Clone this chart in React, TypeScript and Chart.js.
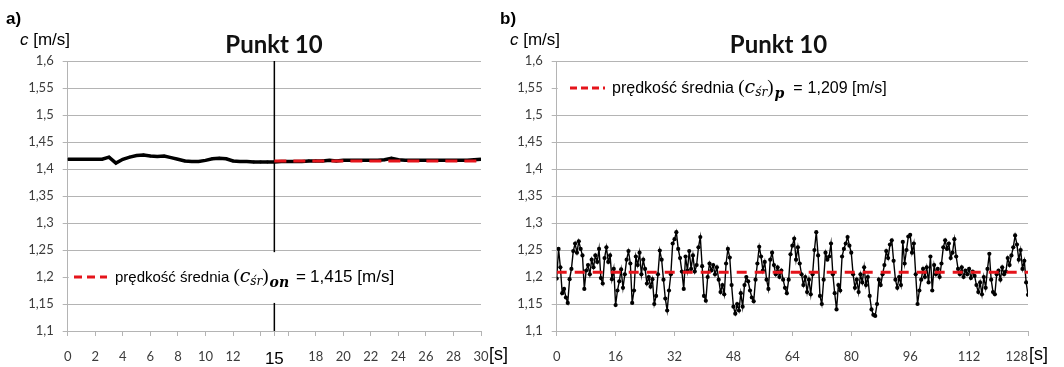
import React, { useEffect, useRef } from 'react';
import { Chart, registerables } from 'chart.js';

Chart.register(...registerables);

// ---------------- data ----------------
const yTickValues = [1.1, 1.15, 1.2, 1.25, 1.3, 1.35, 1.4, 1.45, 1.5, 1.55, 1.6];

// chart a)
const leftSampleStep = 0.5; // [s]
const leftSpeeds = [
  1.418, 1.418, 1.418, 1.418, 1.418, 1.418, 1.422, 1.411, 1.418, 1.422,
  1.425, 1.426, 1.424, 1.423, 1.424, 1.421, 1.418, 1.415, 1.414, 1.414,
  1.416, 1.419, 1.420, 1.419, 1.415, 1.414, 1.414, 1.413, 1.413, 1.413,
  1.413, 1.414, 1.414, 1.414, 1.414, 1.415, 1.415, 1.415, 1.416, 1.415,
  1.416, 1.416, 1.416, 1.416, 1.416, 1.416, 1.417, 1.420, 1.417, 1.416,
  1.416, 1.416, 1.416, 1.416, 1.416, 1.416, 1.416, 1.416, 1.416, 1.417,
  1.418,
];
const leftMeanSpeed = 1.415;
const leftMeanRange = [15, 30];
const leftMarkerTime = 15;
const leftXTicks = [0, 2, 4, 6, 8, 10, 12, 14, 15, 16, 18, 20, 22, 24, 26, 28, 30];
const leftHiddenTicks = [14, 16];
const leftEmphasisTick = 15;

// chart b)
const rightSampleStep = 0.5; // [s]
const rightSpeeds = [
  1.197, 1.252, 1.218, 1.170, 1.178, 1.162, 1.152, 1.196,
  1.215, 1.248, 1.262, 1.245, 1.266, 1.252, 1.240, 1.178,
  1.212, 1.222, 1.205, 1.232, 1.218, 1.240, 1.228, 1.252,
  1.198, 1.188, 1.235, 1.255, 1.228, 1.240, 1.196, 1.215,
  1.148, 1.175, 1.192, 1.214, 1.180, 1.205, 1.232, 1.248,
  1.225, 1.152, 1.175, 1.238, 1.222, 1.245, 1.205, 1.232,
  1.215, 1.188, 1.200, 1.182, 1.196, 1.150, 1.165, 1.205,
  1.249, 1.232, 1.195, 1.160, 1.138, 1.175, 1.205, 1.262,
  1.270, 1.283, 1.252, 1.235, 1.210, 1.178, 1.238, 1.212,
  1.248, 1.215, 1.240, 1.210, 1.222, 1.255, 1.274, 1.220,
  1.165, 1.156, 1.200, 1.225, 1.212, 1.222, 1.205, 1.218,
  1.195, 1.172, 1.185, 1.168, 1.225, 1.252, 1.236, 1.185,
  1.145, 1.132, 1.150, 1.138, 1.170, 1.145, 1.185, 1.200,
  1.192, 1.175, 1.162, 1.155, 1.195, 1.225, 1.256, 1.238,
  1.212, 1.228, 1.195, 1.178, 1.232, 1.245, 1.222, 1.205,
  1.218, 1.200, 1.212, 1.195, 1.180, 1.170, 1.195, 1.242,
  1.258, 1.271, 1.232, 1.255, 1.225, 1.205, 1.185, 1.200,
  1.172, 1.195, 1.168, 1.205, 1.250, 1.283, 1.240, 1.165,
  1.150, 1.195, 1.245, 1.232, 1.238, 1.262, 1.205, 1.170,
  1.140, 1.185, 1.175, 1.238, 1.252, 1.262, 1.274, 1.258,
  1.245, 1.205, 1.180, 1.195, 1.172, 1.205, 1.190, 1.218,
  1.185, 1.200, 1.165, 1.140, 1.130, 1.128, 1.150, 1.195,
  1.185, 1.205, 1.222, 1.248, 1.235, 1.260, 1.268, 1.230,
  1.195, 1.180, 1.200, 1.185, 1.265, 1.225, 1.250, 1.275,
  1.278, 1.245, 1.262, 1.205, 1.150, 1.175, 1.195, 1.215,
  1.200, 1.218, 1.190, 1.238, 1.175, 1.222, 1.205, 1.215,
  1.200, 1.225, 1.255, 1.268, 1.252, 1.262, 1.235, 1.245,
  1.270, 1.238, 1.215, 1.205, 1.218, 1.200, 1.212, 1.205,
  1.215, 1.198, 1.210, 1.202, 1.185, 1.172, 1.190, 1.168,
  1.200, 1.180, 1.215, 1.243, 1.195, 1.172, 1.168, 1.205,
  1.212, 1.195, 1.218, 1.205, 1.210, 1.235, 1.222, 1.240,
  1.255, 1.277, 1.260, 1.232, 1.250, 1.215, 1.230, 1.190,
  1.167,
];
const rightMeanSpeed = 1.209;
const rightMeanRange = [0, 128];
const rightXTicks = [0, 16, 32, 48, 64, 80, 96, 112, 128];

// ---------------- styling ----------------
const H = 367;
const GRID = '#b4b4b4';
const TICK_COLOR = '#3c3c3c';
const RED = '#e5141b';
const NUM = 'Lato, "Open Sans", sans-serif';
const SANS = '"Liberation Sans", Arial, sans-serif';
const SERIF = '"Liberation Serif", serif';
const MATH = '"DejaVu Serif", serif';

const fmt = (v: number) => Number(v).toFixed(2).replace(/0$/, '').replace('.', ',');

type Piece = { text: string; font: string; dy?: number; gap?: number };

function drawRich(ctx: CanvasRenderingContext2D, x: number, y: number, pieces: Piece[]) {
  let cx = x;
  for (const p of pieces) {
    cx += p.gap || 0;
    if (!p.text) continue;
    ctx.font = p.font;
    ctx.fillText(p.text, cx, y + (p.dy || 0));
    cx += ctx.measureText(p.text).width;
  }
}

type Spec = {
  width: number;
  area: { left: number; top: number; right: number; bottom: number };
  xMin: number;
  xMax: number;
  xTicks: number[];
  hidden: number[];
  emphasis?: number;
  manualLast?: number;
  datasets: any[];
  boxTop: number;
  boxBottom: number;
  legendValue: number;
  sample: [number, number];
  textX: number;
  dash: number[];
  legendPieces: Piece[];
  corner: string;
  cornerX: number;
  unitX: number;
  titleX: number;
  sX: number;
};

function makeChart(canvas: HTMLCanvasElement, s: Spec) {
  const overlay = {
    id: 'overlay',
    afterDatasetsDraw(chart: any) {
      const { ctx, chartArea: a, scales } = chart;
      const ys = scales.y;
      const top = ys.getPixelForValue(s.boxTop);
      const bottom = ys.getPixelForValue(s.boxBottom);
      ctx.save();
      ctx.fillStyle = '#ffffff';
      ctx.fillRect(a.left + 1, top, a.right - a.left - 1, bottom - top);
      const cy = ys.getPixelForValue(s.legendValue);
      ctx.strokeStyle = RED;
      ctx.lineWidth = 3;
      ctx.setLineDash(s.dash);
      ctx.beginPath();
      ctx.moveTo(s.sample[0], cy);
      ctx.lineTo(s.sample[1], cy);
      ctx.stroke();
      ctx.setLineDash([]);
      ctx.fillStyle = '#000';
      ctx.textAlign = 'left';
      ctx.textBaseline = 'alphabetic';
      drawRich(ctx, s.textX, cy + 5, s.legendPieces);
      ctx.restore();
    },
    afterDraw(chart: any) {
      const { ctx, scales } = chart;
      ctx.save();
      ctx.fillStyle = '#000';
      ctx.textAlign = 'left';
      ctx.textBaseline = 'alphabetic';
      ctx.font = `bold 17px ${SANS}`;
      ctx.fillText(s.corner, s.cornerX, 24);
      drawRich(ctx, s.unitX, 45, [
        { text: 'c', font: `italic 17px ${SANS}` },
        { text: ' [m/s]', font: `17px ${SANS}` },
      ]);
      ctx.textAlign = 'center';
      ctx.font = `bold 24px ${NUM}`;
      ctx.fillStyle = '#111';
      ctx.fillText('Punkt 10', s.titleX, 53);
      let sx = s.sX;
      if (s.manualLast !== undefined) {
        const px = scales.x.getPixelForValue(s.manualLast);
        ctx.textAlign = 'right';
        ctx.textBaseline = 'middle';
        ctx.fillStyle = TICK_COLOR;
        ctx.font = `13px ${NUM}`;
        ctx.fillText(String(s.manualLast), px, 357);
        sx = px + 1;
      }
      ctx.textAlign = 'left';
      ctx.textBaseline = 'alphabetic';
      ctx.fillStyle = '#000';
      ctx.font = `18px ${SANS}`;
      ctx.fillText('[s]', sx, 360);
      ctx.restore();
    },
  };

  return new Chart(canvas, {
    type: 'line',
    data: { datasets: s.datasets },
    options: {
      animation: false,
      responsive: false,
      maintainAspectRatio: false,
      events: [],
      layout: {
        padding: { left: 0, top: s.area.top, right: s.width - s.area.right, bottom: 0 },
      },
      plugins: {
        legend: { display: false },
        tooltip: { enabled: false },
        title: { display: false },
      },
      scales: {
        x: {
          type: 'linear',
          min: s.xMin,
          max: s.xMax,
          afterBuildTicks: (sc: any) => {
            sc.ticks = s.xTicks.map((v) => ({ value: v }));
          },
          afterFit: (sc: any) => {
            sc.height = H - s.area.bottom;
          },
          ticks: {
            autoSkip: false,
            maxRotation: 0,
            padding: 13,
            color: (c: any) => (c.tick && c.tick.value === s.emphasis ? '#000' : TICK_COLOR),
            font: (c: any) =>
              c.tick && c.tick.value === s.emphasis
                ? { family: SANS, size: 17 }
                : { family: NUM, size: 13 },
            callback: (v: any) => {
              const n = Number(v);
              if (s.hidden.includes(n)) return '';
              if (s.manualLast !== undefined && n === s.manualLast) return '';
              return String(n);
            },
          },
          grid: {
            drawOnChartArea: false,
            drawTicks: true,
            tickLength: 5,
            color: GRID,
          },
          border: { display: true, color: GRID },
        },
        y: {
          type: 'linear',
          min: 1.1,
          max: 1.6,
          afterBuildTicks: (sc: any) => {
            sc.ticks = yTickValues.map((v) => ({ value: v }));
          },
          afterFit: (sc: any) => {
            sc.width = s.area.left;
          },
          ticks: {
            padding: 9,
            color: TICK_COLOR,
            font: { family: NUM, size: 13 },
            callback: (v: any) => fmt(Number(v)),
          },
          grid: { color: GRID, tickLength: 5, lineWidth: 1 },
          border: { display: true, color: GRID },
        },
      },
    },
    plugins: [overlay],
  } as any);
}

const leftSpec: Spec = {
  width: 520,
  area: { left: 67.7, top: 61, right: 481, bottom: 331 },
  xMin: 0,
  xMax: 30,
  xTicks: leftXTicks,
  hidden: leftHiddenTicks,
  emphasis: leftEmphasisTick,
  datasets: [
    {
      data: leftMeanRange.map((t) => ({ x: t, y: leftMeanSpeed })),
      borderColor: RED,
      borderWidth: 3,
      borderDash: [12, 7],
      pointRadius: 0,
    },
    {
      data: leftSpeeds.map((v, i) => ({ x: i * leftSampleStep, y: v })),
      borderColor: '#000',
      borderWidth: 3.5,
      pointRadius: 1.4,
      pointBackgroundColor: '#000',
      pointBorderWidth: 0,
      tension: 0,
    },
    {
      data: [
        { x: leftMarkerTime, y: 1.1 },
        { x: leftMarkerTime, y: 1.6 },
      ],
      borderColor: '#000',
      borderWidth: 1.5,
      pointRadius: 0,
    },
  ],
  boxTop: 1.246,
  boxBottom: 1.152,
  legendValue: 1.2,
  sample: [74, 107],
  textX: 115,
  dash: [8, 5],
  legendPieces: [
    { text: 'prędkość średnia ', font: `15px ${SANS}` },
    { text: '(', font: `19px ${SERIF}` },
    { text: 'c', font: `italic 19px ${MATH}` },
    { text: 'śr', font: `italic 12px ${MATH}`, dy: 3 },
    { text: ')', font: `19px ${SERIF}` },
    { text: 'on', font: `bold italic 14px ${MATH}`, dy: 5, gap: 1 },
    { text: '=', font: `17px ${SANS}`, gap: 7 },
    { text: '1,415 [m/s]', font: `17px ${SANS}`, gap: 4 },
  ],
  corner: 'a)',
  cornerX: 6,
  unitX: 20,
  titleX: 274,
  sX: 489,
};

const OFF = 490;
const rightSpec: Spec = {
  width: 574,
  area: { left: 556.7 - OFF, top: 61, right: 1028 - OFF, bottom: 331 },
  xMin: 0,
  xMax: 128,
  xTicks: rightXTicks,
  hidden: [],
  manualLast: 128,
  datasets: [
    {
      data: rightMeanRange.map((t) => ({ x: t, y: rightMeanSpeed })),
      borderColor: RED,
      borderWidth: 3,
      borderDash: [10, 8],
      pointRadius: 0,
    },
    {
      data: rightSpeeds.map((v, i) => ({ x: i * rightSampleStep, y: v })),
      borderColor: '#000',
      borderWidth: 1.4,
      pointRadius: 2.1,
      pointBackgroundColor: '#000',
      pointBorderWidth: 0,
      tension: 0,
    },
  ],
  boxTop: 1.597,
  boxBottom: 1.503,
  legendValue: 1.55,
  sample: [570 - OFF, 605 - OFF],
  textX: 612 - OFF,
  dash: [7, 4],
  legendPieces: [
    { text: 'prędkość średnia ', font: `16px ${SANS}` },
    { text: '(', font: `19px ${SERIF}` },
    { text: 'c', font: `italic 19px ${MATH}` },
    { text: 'śr', font: `italic 12px ${MATH}`, dy: 3 },
    { text: ')', font: `19px ${SERIF}` },
    { text: 'p', font: `bold italic 14px ${MATH}`, dy: 5, gap: 1 },
    { text: '=', font: `16px ${SANS}`, gap: 9 },
    { text: '1,209 [m/s]', font: `16px ${SANS}`, gap: 5 },
  ],
  corner: 'b)',
  cornerX: 500 - OFF,
  unitX: 510 - OFF,
  titleX: 778.5 - OFF,
  sX: 1029 - OFF,
};

function ChartCanvas({ spec, left }: { spec: Spec; left: number }) {
  const ref = useRef<HTMLCanvasElement | null>(null);
  useEffect(() => {
    if (!ref.current) return;
    const chart = makeChart(ref.current, spec);
    return () => chart.destroy();
  }, [spec]);
  return (
    <canvas
      ref={ref}
      width={spec.width}
      height={H}
      style={{ position: 'absolute', left, top: 0, width: spec.width, height: H }}
    />
  );
}

export default function App() {
  return (
    <div
      style={{
        position: 'absolute',
        left: 0,
        top: 0,
        width: 1064,
        height: H,
        background: '#fff',
        overflow: 'hidden',
      }}
    >
      <ChartCanvas spec={leftSpec} left={0} />
      <ChartCanvas spec={rightSpec} left={OFF} />
    </div>
  );
}
